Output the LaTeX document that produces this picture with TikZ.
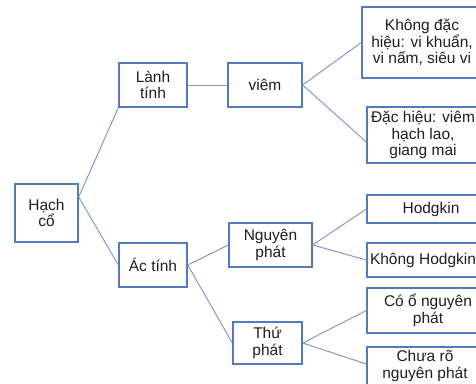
\documentclass[tikz,border=0pt]{standalone}
\usepackage{fontspec}
\setmainfont{Liberation Sans}
\usetikzlibrary{calc}
\definecolor{boxblue}{HTML}{5679BE}
\definecolor{linkblue}{HTML}{8299CC}
\definecolor{txt}{HTML}{1E1E1E}
\begin{document}
\begin{tikzpicture}[x=1pt,y=-1pt,
  box/.style={draw=boxblue, line width=1.4pt, fill=white, align=center, inner sep=0pt,
    text=txt, font=\fontsize{15.5}{16.5}\selectfont},
  link/.style={draw=linkblue, line width=1pt}]
\useasboundingbox (0,0) rectangle (476,383);
\clip (0,0) rectangle (476,383);
% left and middle column
\node[box, minimum width=63pt, minimum height=58pt] (hach) at (46.5,213) {Hạch\\cổ};
\node[box, minimum width=68pt, minimum height=44pt] (lanh) at (153,85) {Lành\\tính};
\node[box, minimum width=68pt, minimum height=44pt] (ac) at (153,265) {Ác tính};
\node[box, minimum width=74pt, minimum height=44pt] (viem) at (265,85) {viêm};
\node[box, minimum width=83pt, minimum height=44pt] (nguyen) at (270.5,245) {Nguyên\\phát};
\node[box, minimum width=69pt, minimum height=42pt] (thu) at (267.5,343) {Thứ\\phát};
% right column (boxes run past the right edge)
\node[box, minimum width=120pt, minimum height=71pt] (kdh) at (422,42.5) {Không đặc\\hiệu: vi khuẩn,\\vi nấm, siêu vi};
\node[box, minimum width=112pt, minimum height=56pt] (dh) at (423,135) {Đặc hiệu: viêm\\hạch lao,\\giang mai};
\node[box, minimum width=128pt, minimum height=28pt] (hod) at (431,209) {Hodgkin};
\node[box, minimum width=112pt, minimum height=34pt] (khod) at (423,260) {Không Hodgkin};
\node[box, minimum width=122pt, minimum height=45pt] (co) at (428,310.5) {Có ổ nguyên\\phát};
\node[box, minimum width=116pt, minimum height=38pt] (chua) at (425,366) {Chưa rõ\\nguyên phát};
% connectors
\coordinate (hachout) at ([yshift=16pt]hach.east);
\draw[link] (hachout) -- (lanh.south west);
\draw[link] (hachout) -- (ac.west);
\draw[link] (lanh.east) -- (viem.west);
\draw[link] (ac.east) -- (nguyen.west);
\draw[link] (ac.east) -- (thu.west);
\draw[link] (viem.east) -- (kdh.west);
\draw[link] (viem.east) -- ([yshift=-7pt]dh.west);
\draw[link] (nguyen.east) -- (hod.west);
\draw[link] (nguyen.east) -- (khod.west);
\draw[link] (thu.east) -- (co.west);
\draw[link] (thu.east) -- ([yshift=2pt]chua.west);
\end{tikzpicture}
\end{document}
